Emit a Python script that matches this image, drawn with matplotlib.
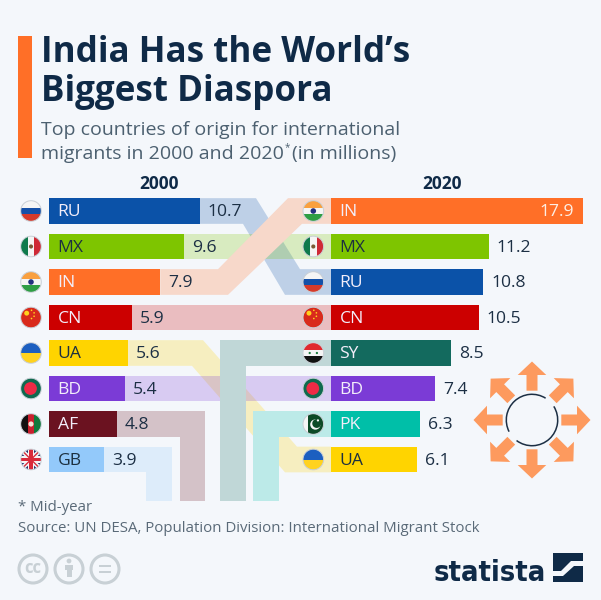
# -*- coding: utf-8 -*-
"""
India diaspora, top countries of origin 2000 / 2020
"""
import numpy as np
from matplotlib import pyplot as plt
from matplotlib.colors import to_rgb
from matplotlib.patches import Circle, Polygon, Rectangle, Arc

codes_2000 = ['RU', 'MX', 'IN', 'CN', 'UA', 'BD', 'AF', 'GB']
values_2000 = [10.7, 9.6, 7.9, 5.9, 5.6, 5.4, 4.8, 3.9]
codes_2020 = ['IN', 'MX', 'RU', 'CN', 'SY', 'BD', 'PK', 'UA']
values_2020 = [17.9, 11.2, 10.8, 10.5, 8.5, 7.4, 6.3, 6.1]
bar_colors = {'RU': '#0b52a8', 'MX': '#7ec500', 'IN': '#ff6f27', 'CN': '#cc0000',
              'UA': '#ffd400', 'BD': '#7b3bd6', 'AF': '#6b1220', 'GB': '#93c9fa',
              'SY': '#136a5e', 'PK': '#00bfa8'}
dark_labels = ['MX', 'UA', 'GB']

W, H = 601, 600
BG = '#f4f7fb'
NAVY = '#0f2a47'
PX = 14.08
LEFT_X, RIGHT_X = 49, 331
ROW0, STEP, BAR_H = 211, 35.5, 25.7
FONT = 'Open Sans'


def top(i):
    return ROW0 + STEP * i - BAR_H / 2


def bot(i):
    return ROW0 + STEP * i + BAR_H / 2


def bar_axes(x0, x1):
    y0 = ROW0 - STEP / 2
    y1 = ROW0 + 7.5 * STEP
    a = fig.add_axes([x0 / W, 1 - y1 / H, (x1 - x0) / W, (y1 - y0) / H], zorder=2)
    a.set_xlim(0, (x1 - x0) / PX)
    a.set_ylim(7.5, -0.5)
    a.axis('off')
    return a


def draw_bars(a, codes, values):
    rows = np.arange(len(codes))
    a.barh(rows, values, height=BAR_H / STEP, color=[bar_colors[c] for c in codes])
    for i, c in enumerate(codes):
        col = '#1c3040' if c in dark_labels else '#f3eefa'
        a.text(8.5 / PX, i + 0.03, c, color=col, fontsize=12.6, family=FONT,
               va='center', ha='left')
        if values[i] > 15:
            a.text(values[i] - 9 / PX, i + 0.03, '%.1f' % values[i], color='#fdeee4',
                   fontsize=12.6, family=FONT, va='center', ha='right', weight=500)
        else:
            a.text(values[i] + 8 / PX, i + 0.03, '%.1f' % values[i], color='#1c2f44',
                   fontsize=12.6, family=FONT, va='center', ha='left', weight=500)


def ribbon(code, pts, solid=False):
    # solid ones hide whatever runs underneath them
    if solid:
        c = 0.23 * np.array(to_rgb(bar_colors[code])) + 0.77 * np.array(to_rgb(BG))
        bg.add_patch(Polygon(pts, closed=True, fc=c, ec='none', zorder=1))
    else:
        bg.add_patch(Polygon(pts, closed=True, fc=bar_colors[code], ec='none',
                             alpha=0.23, zorder=1))


def end_2000(code):
    return LEFT_X + values_2000[codes_2000.index(code)] * PX


def straight(code):
    i = codes_2000.index(code)
    x0 = end_2000(code)
    ribbon(code, [(x0, top(i)), (RIGHT_X, top(i)), (RIGHT_X, bot(i)), (x0, bot(i))])


def flag(cx, cy, code, r=10.3):
    clip = Circle((cx, cy), r, transform=bg.transData)

    def rect(x, y, w, h, c):
        p = Rectangle((cx + x * r, cy + y * r), w * r, h * r, fc=c, ec='none', zorder=3)
        bg.add_patch(p)
        p.set_clip_path(clip)

    def disc(x, y, s, c):
        p = Circle((cx + x * r, cy + y * r), s * r, fc=c, ec='none', zorder=4)
        bg.add_patch(p)
        p.set_clip_path(clip)

    if code == 'RU':
        rect(-1, -1, 2, .68, '#f5f5f5')
        rect(-1, -.33, 2, .67, '#1450a8')
        rect(-1, .33, 2, .67, '#d63a2a')
    elif code == 'MX':
        rect(-1, -1, .68, 2, '#0f7a4c')
        rect(-.33, -1, .67, 2, '#f5f5f5')
        rect(.33, -1, .67, 2, '#cf2a36')
        disc(0, 0, .2, '#7a5a36')
    elif code == 'IN':
        rect(-1, -1, 2, .68, '#f9a03f')
        rect(-1, -.33, 2, .67, '#f5f5f5')
        rect(-1, .33, 2, .67, '#2f9e44')
        disc(0, 0, .27, '#23307f')
    elif code == 'CN':
        rect(-1, -1, 2, 2, '#d92a1c')
        disc(-.42, -.42, .24, '#ffd21f')
        for x, y in [(.05, -.7), (.3, -.45), (.3, -.12), (.05, .1)]:
            disc(x, y, .08, '#ffd21f')
    elif code == 'UA':
        rect(-1, -1, 2, 1, '#1c5fc0')
        rect(-1, 0, 2, 1, '#ffd21f')
    elif code == 'BD':
        rect(-1, -1, 2, 2, '#0f6a4f')
        disc(-.05, 0, .62, '#ee2a45')
    elif code == 'AF':
        rect(-1, -1, .68, 2, '#111111')
        rect(-.33, -1, .67, 2, '#c8202e')
        rect(.33, -1, .67, 2, '#0f7a3c')
        disc(0, 0, .25, '#f2e6d8')
    elif code == 'GB':
        rect(-1, -1, 2, 2, '#26336e')
        for s in (1, -1):
            p = Polygon([(cx - r, cy - s * r * .8), (cx - r, cy - s * r),
                         (cx - r * .8, cy - s * r), (cx + r, cy + s * r * .8),
                         (cx + r, cy + s * r), (cx + r * .8, cy + s * r)],
                        fc='#d92a3a', ec='#f5f5f5', lw=1.1, zorder=4)
            bg.add_patch(p)
            p.set_clip_path(clip)
        rect(-1, -.3, 2, .6, '#f5f5f5')
        rect(-.3, -1, .6, 2, '#f5f5f5')
        for p in (Rectangle((cx - r, cy - r * .16), 2 * r, r * .32, fc='#d92a3a', zorder=6),
                  Rectangle((cx - r * .16, cy - r), r * .32, 2 * r, fc='#d92a3a', zorder=6)):
            bg.add_patch(p)
            p.set_clip_path(clip)
    elif code == 'SY':
        rect(-1, -1, 2, .68, '#e0282e')
        rect(-1, -.33, 2, .67, '#f5f5f5')
        rect(-1, .33, 2, .67, '#111111')
        disc(-.35, 0, .11, '#1b7a3c')
        disc(.35, 0, .11, '#1b7a3c')
    elif code == 'PK':
        rect(-1, -1, .5, 2, '#f5f5f5')
        rect(-.5, -1, 1.5, 2, '#0c4a26')
        disc(.2, .05, .5, '#f5f5f5')
        disc(.33, -.05, .43, '#0c4a26')
        disc(.45, -.35, .11, '#f5f5f5')
    bg.add_patch(Circle((cx, cy), r, fc='none', ec='#c9cfd6', lw=0.7, zorder=8))


fig = plt.figure(figsize=(W / 100, H / 100), dpi=100, facecolor=BG)
bg = fig.add_axes([0, 0, 1, 1], zorder=1)
bg.set_xlim(0, W)
bg.set_ylim(H, 0)
bg.axis('off')
fg = fig.add_axes([0, 0, 1, 1], zorder=3)
fg.set_xlim(0, W)
fg.set_ylim(H, 0)
fg.axis('off')

# title block
bg.add_patch(Rectangle((18, 36), 14, 122, fc='#ff6f27', ec='none'))
for y, s in [(62, 'India Has the World\u2019s'), (100.5, 'Biggest Diaspora')]:
    fg.text(41, y, s, fontsize=25.2, weight='bold', family=FONT, color=NAVY, va='baseline')
fg.text(41, 135, 'Top countries of origin for international', fontsize=14, family=FONT,
        color='#4c6070', va='baseline')
sub = fg.text(41, 159, 'migrants in 2000 and 2020', fontsize=14, family=FONT,
              color='#4c6070', va='baseline')
fig.canvas.draw()
ext = sub.get_window_extent()
fg.text(ext.x1 + 0.5, 150, '*', fontsize=7, family=FONT, color='#4c6070', va='baseline')
fg.text(ext.x1 + 8, 159, '(in millions)', fontsize=14, family=FONT, color='#4c6070',
        va='baseline')

fg.text(159, 184, '2000', fontsize=12.5, weight='bold', family=FONT, color=NAVY,
        ha='center', va='center')
fg.text(442, 184, '2020', fontsize=12.5, weight='bold', family=FONT, color=NAVY,
        ha='center', va='center')

# ribbons linking the two rankings
x = end_2000('RU')
ribbon('RU', [(x, top(0)), (256, top(0)), (300, top(2)), (RIGHT_X, top(2)),
              (RIGHT_X, bot(2)), (285, bot(2)), (243, bot(0)), (x, bot(0))])
straight('MX')
x = end_2000('IN')
bg_in = [(x, top(2)), (218, top(2)), (288, top(0)), (RIGHT_X, top(0)),
         (RIGHT_X, bot(0)), (302, bot(0)), (228, bot(2)), (x, bot(2))]
ribbon('IN', bg_in, solid=True)
straight('CN')
x = end_2000('UA')
ribbon('UA', [(x, top(4)), (203, top(4)), (297, top(7)), (RIGHT_X, top(7)),
              (RIGHT_X, bot(7)), (285, bot(7)), (192, bot(4)), (x, bot(4))])
straight('BD')
x = end_2000('AF')
ribbon('AF', [(x, top(6)), (205, top(6)), (205, 501), (180, 501), (180, bot(6)), (x, bot(6))])
x = end_2000('GB')
ribbon('GB', [(x, top(7)), (172, top(7)), (172, 501), (146, 501), (146, bot(7)), (x, bot(7))])
ribbon('SY', [(RIGHT_X, top(4)), (220, top(4)), (220, 501), (245.7, 501), (245.7, bot(4)),
              (RIGHT_X, bot(4))], solid=True)
ribbon('PK', [(RIGHT_X, top(6)), (253, top(6)), (253, 501), (279, 501), (279, bot(6)),
              (RIGHT_X, bot(6))], solid=True)

ax_l = bar_axes(LEFT_X, RIGHT_X)
ax_r = bar_axes(RIGHT_X, W)
draw_bars(ax_l, codes_2000, values_2000)
draw_bars(ax_r, codes_2020, values_2020)

for i, c in enumerate(codes_2000):
    flag(31, ROW0 + STEP * i, c)
for i, c in enumerate(codes_2020):
    flag(313.3, ROW0 + STEP * i, c)

# arrows icon
arrow = np.array([[-5.5, 29.3], [-5.5, 45], [-14.3, 45], [0, 58.5], [14.3, 45], [5.5, 45],
                  [5.5, 29.3]])
for ang in np.arange(0, 360, 45):
    t = np.radians(ang)
    rot = np.array([[np.cos(t), -np.sin(t)], [np.sin(t), np.cos(t)]])
    fg.add_patch(Polygon(arrow @ rot.T + [532, 420], fc='#fd9a5e', ec='none'))
# y axis is flipped here, so the angles run clockwise on screen
fg.add_patch(Arc((532, 420), 51.4, 51.4, theta1=-32, theta2=127, lw=1.1, color='#1c2f44'))
fg.add_patch(Arc((532, 420), 51.4, 51.4, theta1=153, theta2=302, lw=1.1, color='#1c2f44'))

# footer
fg.text(18, 511, '* Mid-year', fontsize=10.8, family=FONT, color='#5a6a78', va='baseline')
fg.text(18, 532, 'Source: UN DESA, Population Division: International Migrant Stock',
        fontsize=10.8, family=FONT, color='#5a6a78', va='baseline')

GREY = '#c8d0d5'
for cx in [33, 69, 105]:
    fg.add_patch(Circle((cx, 569), 14, fc='none', ec=GREY, lw=2.2))
fg.text(33, 568, 'cc', fontsize=12, weight='bold', color=GREY, ha='center', va='center',
        family=FONT)
fg.add_patch(Circle((69, 561), 2.4, fc=GREY, ec='none'))
fg.add_patch(Rectangle((65, 564.5), 8, 5.5, fc=GREY, ec='none'))
fg.add_patch(Rectangle((66.5, 570), 5, 7, fc=GREY, ec='none'))
fg.add_patch(Rectangle((99, 564.5), 12, 2.6, fc=GREY, ec='none'))
fg.add_patch(Rectangle((99, 570.5), 12, 2.6, fc=GREY, ec='none'))

# logo, size fitted to the width it has in the reference
logo = fg.text(434, 581, 'statista', fontsize=27, weight='bold', family='DejaVu Sans',
               stretch='condensed', color=NAVY, va='baseline')
fig.canvas.draw()
logo.set_fontsize(27 * 112 / logo.get_window_extent().width)
fg.add_patch(Rectangle((553, 553), 30, 29, fc=NAVY, ec='none'))
fg.add_patch(Polygon([(553, 571), (561, 571), (571, 561), (583, 561), (583, 566), (574, 566),
                      (563, 576), (553, 576)], fc=BG, ec='none'))

fig.savefig('out.png', dpi=100, facecolor=BG)
